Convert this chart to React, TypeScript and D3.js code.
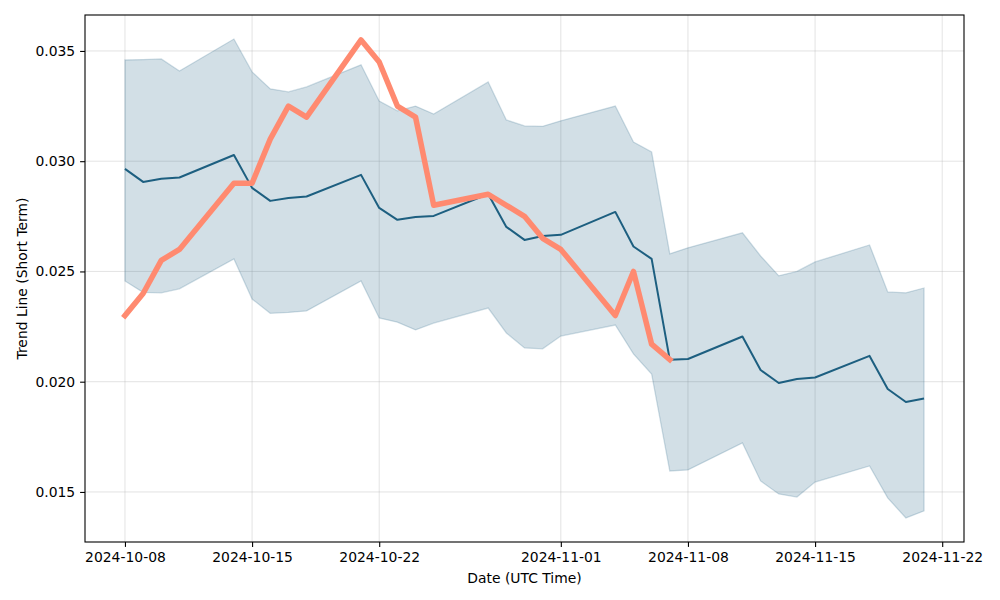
import React, {useEffect, useRef} from "react";
import * as d3 from "d3";

// business days shown in the chart
const dates = [
	"2024-10-08", "2024-10-09", "2024-10-10", "2024-10-11",
	"2024-10-14", "2024-10-15", "2024-10-16", "2024-10-17", "2024-10-18",
	"2024-10-21", "2024-10-22", "2024-10-23", "2024-10-24", "2024-10-25",
	"2024-10-28", "2024-10-29", "2024-10-30", "2024-10-31", "2024-11-01",
	"2024-11-04", "2024-11-05", "2024-11-06", "2024-11-07", "2024-11-08",
	"2024-11-11", "2024-11-12", "2024-11-13", "2024-11-14", "2024-11-15",
	"2024-11-18", "2024-11-19", "2024-11-20", "2024-11-21",
];

const trendMean = [
	0.02965, 0.02906, 0.0292, 0.02926,
	0.03028, 0.02879, 0.0282, 0.02833, 0.0284,
	0.02938, 0.02788, 0.02734, 0.02747, 0.02752,
	0.02851, 0.02702, 0.02643, 0.02661, 0.02666,
	0.0277, 0.02613, 0.02557, 0.02099, 0.02103,
	0.02205, 0.02053, 0.01994, 0.02012, 0.02019,
	0.02117, 0.01967, 0.01908, 0.01924,
];

const trendUpper = [
	0.03459, 0.03461, 0.03464, 0.03409,
	0.03554, 0.03405, 0.03328, 0.03314, 0.03337,
	0.03437, 0.03273, 0.03228, 0.0325, 0.03214,
	0.03359, 0.03187, 0.0316, 0.03158, 0.03183,
	0.0325, 0.03087, 0.03042, 0.0258, 0.02607,
	0.02675, 0.0257, 0.0248, 0.025, 0.02543,
	0.0262, 0.02407, 0.02403, 0.02425,
];

const trendLower = [
	0.02457, 0.02405, 0.02403, 0.02421,
	0.02557, 0.02375, 0.0231, 0.02314, 0.02321,
	0.02457, 0.02289, 0.0227, 0.02235, 0.02266,
	0.02334, 0.02221, 0.02153, 0.02149, 0.02207,
	0.02257, 0.02126, 0.02035, 0.01595, 0.016,
	0.01722, 0.0155, 0.01491, 0.01477, 0.01545,
	0.01618, 0.01473, 0.01382, 0.01414,
];

// observed values, only up to 2024-11-07
const actual = [
	0.023, 0.024, 0.0255, 0.026,
	0.029, 0.029, 0.031, 0.0325, 0.032,
	0.0355, 0.0345, 0.0325, 0.032, 0.028,
	0.0285, 0.028, 0.0275, 0.0265, 0.026,
	0.023, 0.025, 0.0217, 0.021,
];

const xTickLabels = ["2024-10-08", "2024-10-15", "2024-10-22", "2024-11-01", "2024-11-08", "2024-11-15", "2024-11-22"];
const yTickValues = [0.015, 0.02, 0.025, 0.03, 0.035];

const W = 1000;
const H = 600;
const margin = {top: 15, right: 36, bottom: 58, left: 85};
const DAY = 86400000;
const FONT = "DejaVu Sans, sans-serif";

const App: React.FC = () => {
	const svgRef = useRef<SVGSVGElement>(null);

	useEffect(() => {
		document.body.style.margin = "0";
		const svg = d3.select(svgRef.current);
		svg.selectAll("*").remove();

		const parse = d3.utcParse("%Y-%m-%d");
		const t = dates.map((d) => parse(d) as Date);
		const pad = 2.2 * DAY;

		const x = d3
			.scaleUtc()
			.domain([new Date(+t[0] - pad), new Date(+t[t.length - 1] + pad)])
			.range([margin.left, W - margin.right]);
		const y = d3.scaleLinear().domain([0.01273, 0.03663]).range([H - margin.bottom, margin.top]);

		const plotW = W - margin.left - margin.right;
		const plotH = H - margin.top - margin.bottom;

		// grid
		const grid = svg.append("g");
		xTickLabels.forEach((s) => {
			const px = x(parse(s) as Date);
			grid.append("line").attr("x1", px).attr("x2", px).attr("y1", margin.top).attr("y2", H - margin.bottom)
				.attr("stroke", "#b0b0b0").attr("stroke-opacity", 0.35).attr("stroke-width", 1);
		});
		yTickValues.forEach((v) => {
			grid.append("line").attr("x1", margin.left).attr("x2", W - margin.right).attr("y1", y(v)).attr("y2", y(v))
				.attr("stroke", "#b0b0b0").attr("stroke-opacity", 0.35).attr("stroke-width", 1);
		});

		const idx = d3.range(dates.length);

		// confidence band
		const area = d3
			.area<number>()
			.x((i) => x(t[i]))
			.y0((i) => y(trendLower[i]))
			.y1((i) => y(trendUpper[i]));
		svg.append("path").datum(idx).attr("d", area)
			.attr("fill", "#1d5f80").attr("fill-opacity", 0.2)
			.attr("stroke", "#1d5f80").attr("stroke-opacity", 0.2).attr("stroke-width", 1.3);

		// trend line
		const line = d3
			.line<number>()
			.x((i) => x(t[i]))
			.y((i) => y(trendMean[i]));
		svg.append("path").datum(idx).attr("d", line)
			.attr("fill", "none").attr("stroke", "#1d5f80").attr("stroke-width", 2).attr("stroke-linejoin", "round");

		// actual values
		const actLine = d3
			.line<number>()
			.x((i) => x(t[i]))
			.y((i) => y(actual[i]));
		svg.append("path").datum(d3.range(actual.length)).attr("d", actLine)
			.attr("fill", "none").attr("stroke", "#ff8a70").attr("stroke-width", 5.5)
			.attr("stroke-linejoin", "round").attr("stroke-linecap", "square");

		// axes
		const xAxis = d3
			.axisBottom(x)
			.tickValues(xTickLabels.map((s) => parse(s) as Date))
			.tickFormat((d) => d3.utcFormat("%Y-%m-%d")(d as Date))
			.tickSizeOuter(0)
			.tickSize(4.9)
			.tickPadding(4.9);
		const gx = svg.append("g").attr("transform", `translate(0,${H - margin.bottom})`).call(xAxis);
		gx.select(".domain").remove();
		gx.selectAll("line").attr("stroke", "#000").attr("stroke-width", 1.1);
		gx.selectAll("text").attr("font-family", FONT).attr("font-size", 13.9).attr("fill", "#000");

		const yAxis = d3
			.axisLeft(y)
			.tickValues(yTickValues)
			.tickFormat(d3.format(".3f"))
			.tickSizeOuter(0)
			.tickSize(4.9)
			.tickPadding(4.9);
		const gy = svg.append("g").attr("transform", `translate(${margin.left},0)`).call(yAxis);
		gy.select(".domain").remove();
		gy.selectAll("line").attr("stroke", "#000").attr("stroke-width", 1.1);
		gy.selectAll("text").attr("font-family", FONT).attr("font-size", 13.9).attr("fill", "#000");

		// frame
		svg.append("rect").attr("x", margin.left).attr("y", margin.top).attr("width", plotW).attr("height", plotH)
			.attr("fill", "none").attr("stroke", "#000").attr("stroke-width", 1.1);

		// labels
		svg.append("text").attr("x", margin.left + plotW / 2).attr("y", 583).attr("text-anchor", "middle")
			.attr("font-family", FONT).attr("font-size", 13.9).text("Date (UTC Time)");
		svg.append("text").attr("transform", `translate(27,${margin.top + plotH / 2}) rotate(-90)`)
			.attr("text-anchor", "middle").attr("font-family", FONT).attr("font-size", 13.9)
			.text("Trend Line (Short Term)");
	}, []);

	return <svg ref={svgRef} width={W} height={H} style={{display: "block", background: "#fff"}} />;
};

export default App;
